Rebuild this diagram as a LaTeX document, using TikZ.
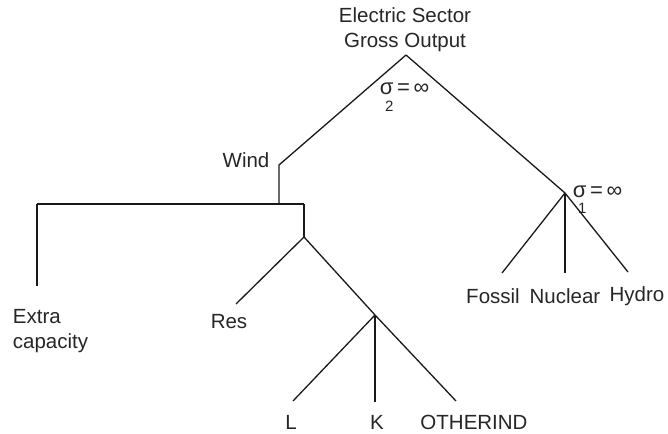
\documentclass[tikz,border=0pt]{standalone}
\usepackage{fontspec}
\setmainfont{Liberation Sans}
\begin{document}
\begin{tikzpicture}[x=1pt,y=1pt,yscale=-1,xscale=1,
    branch/.style={line width=1.3pt, color=black!90},
    lbl/.style={inner sep=0.75pt, font=\fontsize{20.5}{25}\selectfont, text=black!85, align=left},
    sig/.style={inner sep=0.75pt, font=\fontsize{22}{25}\selectfont, text=black!85, anchor=base west}]
        \useasboundingbox (0,0) rectangle (668,433);
        % junctions of the nesting tree
        \coordinate (top) at (406,55);
        \coordinate (windc) at (279,165);
        \coordinate (windb) at (279,204);
        \coordinate (barl) at (37,204);
        \coordinate (barr) at (304,204);
        \coordinate (resj) at (304,237);
        \coordinate (indj) at (375,315);
        \coordinate (elecj) at (565,193);
        % free ends above the labels
        \coordinate (extraend) at (37,286);
        \coordinate (resend) at (236,304);
        \coordinate (lend) at (293,401);
        \coordinate (kend) at (375,402);
        \coordinate (othend) at (456,401);
        \coordinate (fossend) at (502,273);
        \coordinate (nucend) at (565,273);
        \coordinate (hydend) at (628,272);
        % labels
        \node [lbl, align=center] (output) at (405,30) {Electric Sector\\Gross Output};
        \node [sig] (sig2) at (379,95) {σ\llap{\raisebox{-0.75em}{\fontsize{15}{15}\selectfont 2}}\,=\,∞};
        \node [sig] (sig1) at (572,197) {σ\llap{\raisebox{-0.75em}{\fontsize{15}{15}\selectfont 1}}\,=\,∞};
        \node [lbl] (wind) at (246,160) {Wind};
        \node [lbl, anchor=west] (extra) at (12,331) {Extra\\capacity};
        \node [lbl] (res) at (229,322) {Res};
        \node [lbl] (labour) at (291,422) {L};
        \node [lbl] (capital) at (377,422) {K};
        \node [lbl] (otherind) at (474,422) {OTHERIND};
        \node [lbl] (fossil) at (493,296) {Fossil};
        \node [lbl] (nuclear) at (565,296) {Nuclear};
        \node [lbl] (hydro) at (637,296) {Hydro};
        % branches
        \draw [branch] (top) -- (windc) -- (windb);
        \draw [branch] (barl) -- (barr);
        \draw [branch] (barl) -- (extraend);
        \draw [branch] (barr) -- (resj);
        \draw [branch] (resj) -- (resend);
        \draw [branch] (resj) -- (indj);
        \draw [branch] (indj) -- (lend);
        \draw [branch] (indj) -- (kend);
        \draw [branch] (indj) -- (othend);
        \draw [branch] (top) -- (elecj);
        \draw [branch] (elecj) -- (fossend);
        \draw [branch] (elecj) -- (nucend);
        \draw [branch] (elecj) -- (hydend);
\end{tikzpicture}
\end{document}
